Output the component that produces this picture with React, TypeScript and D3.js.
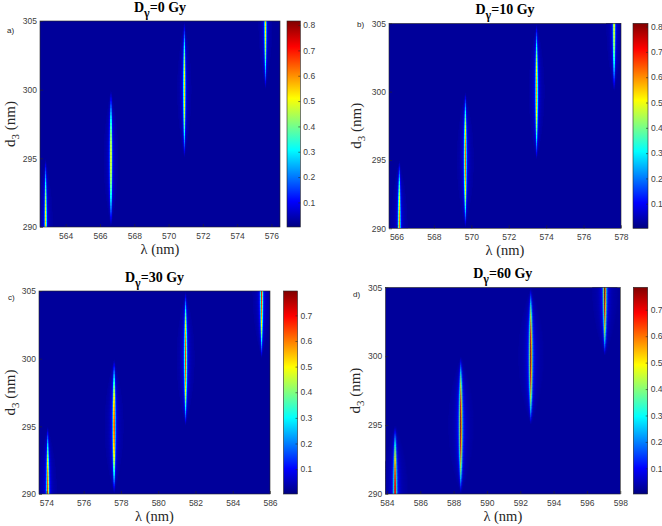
import { useEffect, useRef } from 'react';
import * as d3 from 'd3';

// dose of each panel (Gy) and its tag
const doses = [0, 10, 30, 60];
const panelTags = ['a)', 'b)', 'c)', 'd)'];

// wavelength window of each panel (nm)
const lambdaRanges: [number, number][] = [
  [562.5, 576.5],
  [565.6, 578],
  [573.6, 586],
  [583.9, 598],
];
const lambdaTicks = [
  [564, 566, 568, 570, 572, 574, 576],
  [566, 568, 570, 572, 574, 576, 578],
  [574, 576, 578, 580, 582, 584, 586],
  [584, 586, 588, 590, 592, 594, 596, 598],
];

// defect layer thickness d3 (nm)
const thicknessRange: [number, number] = [290, 305];
const thicknessTicks = [290, 295, 300, 305];

// the four defect modes: resonance wavelength per panel, thickness where each mode is centred
const modeLambda = [
  [562.83, 566.64, 570.92, 575.65],
  [566.15, 569.68, 573.49, 577.63],
  [574.07, 577.63, 581.47, 585.55],
  [584.5, 588.44, 592.64, 597.08],
];
const modeThickness = [290, 295, 300, 305];
const modeHalfSpan = 4.95;
const modePeak = [
  [0.6, 0.64, 0.6, 0.58],
  [0.68, 0.7, 0.62, 0.6],
  [0.72, 0.78, 0.7, 0.72],
  [0.8, 0.79, 0.79, 0.82],
];
// half width of the resonance (nm)
const modeWidth = [0.042, 0.042, 0.045, 0.065];

// colour bars
const colorMin = 0.003;
const colorMax = [0.816, 0.813, 0.795, 0.785];
const colorTicks = [
  [0.1, 0.2, 0.3, 0.4, 0.5, 0.6, 0.7, 0.8],
  [0.1, 0.2, 0.3, 0.4, 0.5, 0.6, 0.7, 0.8],
  [0.1, 0.2, 0.3, 0.4, 0.5, 0.6, 0.7],
  [0.1, 0.2, 0.3, 0.4, 0.5, 0.6, 0.7],
];
const backgroundLevel = 0.024;

const W = 662;
const H = 526;

// plot boxes (px)
const layout = [
  { x: 40, y: 21, w: 240, h: 206, cbx: 287, cbw: 13.3, ylab: 15, tag: [7, 33] },
  { x: 389, y: 23.3, w: 232, h: 205, cbx: 633, cbw: 15, ylab: 361, tag: [357, 27] },
  { x: 39, y: 291, w: 231, h: 203, cbx: 283.5, cbw: 14, ylab: 15, tag: [8, 300] },
  { x: 385.3, y: 287.3, w: 235, h: 206.7, cbx: 633.3, cbw: 14.4, ylab: 360, tag: [353, 297] },
];

const clamp01 = (v: number) => Math.max(0, Math.min(1, v));

function jet(t: number): string {
  t = clamp01(t);
  const r = clamp01(Math.min(4 * t - 1.5, -4 * t + 4.5));
  const g = clamp01(Math.min(4 * t - 0.5, -4 * t + 3.5));
  const b = clamp01(Math.min(4 * t + 0.5, -4 * t + 2.5));
  return d3.rgb(r * 255, g * 255, b * 255).formatHex();
}

// mean transmission over one cell [l0, l1] at thickness d
function cellValue(p: number, l0: number, l1: number, d: number): number {
  let v = backgroundLevel;
  modeLambda[p].forEach((lc, k) => {
    const t = (d - modeThickness[k]) / modeHalfSpan;
    if (Math.abs(t) >= 1) return;
    const env = 1 - t * t;
    const g = modeWidth[p] * Math.sqrt(env);
    const a = modePeak[p][k] * env;
    v += (a * g / (l1 - l0)) * (Math.atan((l1 - lc) / g) - Math.atan((l0 - lc) / g));
  });
  return v;
}

const SANS = '"Liberation Sans", Arial, sans-serif';
const SERIF = '"Liberation Serif", "Times New Roman", serif';

export default function App() {
  const svgRef = useRef<SVGSVGElement>(null);

  useEffect(() => {
    if (!svgRef.current) return;
    const svg = d3.select(svgRef.current);
    svg.selectAll('*').remove();

    const defs = svg.append('defs');
    const grad = defs.append('linearGradient')
      .attr('id', 'jet')
      .attr('x1', 0).attr('y1', 1).attr('x2', 0).attr('y2', 0);
    [0, 1 / 8, 3 / 8, 5 / 8, 7 / 8, 1].forEach(t => {
      grad.append('stop').attr('offset', t).attr('stop-color', jet(t));
    });

    doses.forEach((dose, p) => {
      const box = layout[p];
      const x = d3.scaleLinear().domain(lambdaRanges[p]).range([0, box.w]);
      const y = d3.scaleLinear().domain(thicknessRange).range([box.h, 0]);
      const c = d3.scaleLinear().domain([colorMin, colorMax[p]]).range([0, 1]).clamp(true);

      defs.append('clipPath').attr('id', `clip${p}`)
        .append('rect').attr('width', box.w).attr('height', box.h);

      const g = svg.append('g').attr('transform', `translate(${box.x},${box.y})`);
      const field = g.append('g').attr('clip-path', `url(#clip${p})`);

      field.append('rect')
        .attr('width', box.w)
        .attr('height', box.h)
        .attr('fill', jet(c(backgroundLevel)));

      // cells of the map: one pixel column by 0.1 nm of thickness
      const cells: { i: number; d: number; v: number }[] = [];
      const dStep = 0.1;
      const rows = Math.round((thicknessRange[1] - thicknessRange[0]) / dStep);
      const cols = Math.ceil(box.w);
      for (let j = 0; j < rows; j++) {
        const d = thicknessRange[0] + (j + 0.5) * dStep;
        for (let i = 0; i < cols; i++) {
          const v = cellValue(p, x.invert(i), x.invert(i + 1), d);
          if (v - backgroundLevel > 0.006) cells.push({ i, d, v });
        }
      }
      const rowH = Math.abs(y(0) - y(dStep));
      field.selectAll('rect.cell')
        .data(cells)
        .enter()
        .append('rect')
        .attr('class', 'cell')
        .attr('x', d => d.i)
        .attr('y', d => y(d.d + dStep / 2) - 0.2)
        .attr('width', 1.05)
        .attr('height', rowH + 0.4)
        .attr('fill', d => jet(c(d.v)));

      // frame and axes
      g.append('rect')
        .attr('width', box.w)
        .attr('height', box.h)
        .attr('fill', 'none')
        .attr('stroke', '#262626')
        .attr('stroke-width', 0.6);

      const xAxis = g.append('g')
        .attr('transform', `translate(0,${box.h})`)
        .call(d3.axisBottom(x).tickValues(lambdaTicks[p]).tickSize(-3).tickSizeOuter(0).tickPadding(6).tickFormat(d3.format('d')));
      const yAxis = g.append('g')
        .call(d3.axisLeft(y).tickValues(thicknessTicks).tickSize(-3).tickSizeOuter(0).tickPadding(3).tickFormat(d3.format('d')));
      [xAxis, yAxis].forEach(a => {
        a.select('.domain').remove();
        a.selectAll('line').attr('stroke', '#262626').attr('stroke-width', 0.6);
        a.selectAll('text').attr('fill', '#404040').style('font-family', SANS).style('font-size', '8.5px');
      });

      // colour bar
      const cb = svg.append('g').attr('transform', `translate(${box.cbx},${box.y})`);
      const cy = d3.scaleLinear().domain([colorMin, colorMax[p]]).range([box.h, 0]);
      cb.append('rect')
        .attr('width', box.cbw)
        .attr('height', box.h)
        .attr('fill', 'url(#jet)')
        .attr('stroke', '#262626')
        .attr('stroke-width', 0.6);
      const cbAxis = cb.append('g')
        .attr('transform', `translate(${box.cbw},0)`)
        .call(d3.axisRight(cy).tickValues(colorTicks[p]).tickSize(-2).tickSizeOuter(0).tickPadding(3).tickFormat(d3.format('.1f')));
      cbAxis.select('.domain').remove();
      cbAxis.selectAll('line').attr('stroke', '#262626').attr('stroke-width', 0.6);
      cbAxis.selectAll('text').attr('fill', '#404040').style('font-family', SANS).style('font-size', '8.5px');

      // title
      const title = svg.append('text')
        .attr('x', box.x + box.w / 2)
        .attr('y', box.y - 9.5)
        .attr('text-anchor', 'middle')
        .style('font-family', SERIF)
        .style('font-weight', 'bold')
        .style('font-size', '14px')
        .attr('fill', '#000');
      title.append('tspan').text('D');
      title.append('tspan').attr('dy', 5).style('font-size', '12px').text('γ');
      title.append('tspan').attr('dy', -5).text(`=${dose} Gy`);

      // x label
      svg.append('text')
        .attr('x', box.x + box.w / 2)
        .attr('y', box.y + box.h + 27)
        .attr('text-anchor', 'middle')
        .style('font-family', SERIF)
        .style('font-size', '14.5px')
        .attr('fill', '#262626')
        .text('λ (nm)');

      // y label
      const yl = svg.append('text')
        .attr('transform', `translate(${box.ylab},${box.y + box.h / 2}) rotate(-90)`)
        .attr('text-anchor', 'middle')
        .style('font-family', SERIF)
        .style('font-size', '15px')
        .attr('fill', '#262626');
      yl.append('tspan').text('d');
      yl.append('tspan').attr('dy', 4).style('font-size', '11px').text('3');
      yl.append('tspan').attr('dy', -4).text(' (nm)');

      // panel tag
      svg.append('text')
        .attr('x', box.tag[0])
        .attr('y', box.tag[1])
        .style('font-family', SANS)
        .style('font-size', '8px')
        .attr('fill', '#262626')
        .text(panelTags[p]);
    });
  }, []);

  return (
    <svg
      ref={svgRef}
      width={W}
      height={H}
      style={{ position: 'absolute', left: 0, top: 0, background: '#fff' }}
    />
  );
}
